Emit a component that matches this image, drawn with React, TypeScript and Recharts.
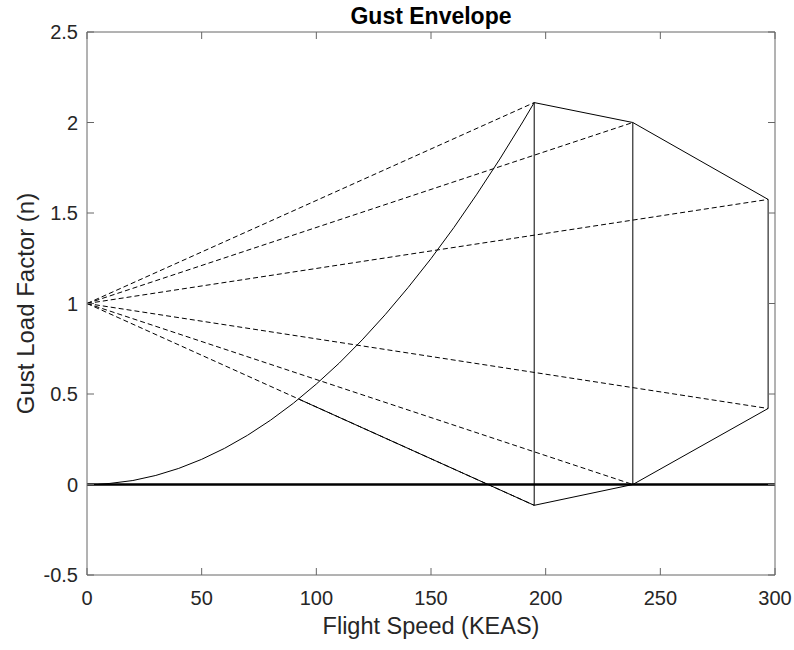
import React from "react"
import { LineChart, Line, XAxis, YAxis, Label } from "recharts"

// corner points of the gust envelope
const cornerSpeeds = [195, 238, 297, 297, 238, 195]
const cornerLoads = [2.11, 2.0, 1.575, 0.42, 0, -0.115]

// stall line (n grows with V^2)
const stallSpeeds = [5, 10, 20, 30, 40, 50, 60, 70, 80, 90, 100, 110, 120, 130, 140, 150, 160, 170, 180, 190, 195]
const stallLoads = [0.001, 0.006, 0.022, 0.05, 0.089, 0.139, 0.2, 0.272, 0.355, 0.449, 0.555, 0.671, 0.799, 0.938, 1.088, 1.248, 1.42, 1.604, 1.798, 2.003, 2.11]

// solid part of the negative gust line past the stall curve
const lowerGustSpeeds = [92.3, 195]
const lowerGustLoads = [0.472, -0.115]

const xTicks = [0, 50, 100, 150, 200, 250, 300]
const yTicks = [-0.5, 0, 0.5, 1, 1.5, 2, 2.5]

const ORIGIN = { v: 0, n: 1 }

const pts = (vs: number[], ns: number[]) => vs.map((v, i) => ({ v, n: ns[i] }))

const corners = pts(cornerSpeeds, cornerLoads)
const envelope = [...corners, corners[0]]
const midVertical = [corners[1], corners[4]]
const stall = pts(stallSpeeds, stallLoads)
const lowerGust = pts(lowerGustSpeeds, lowerGustLoads)
const gustRays = corners.map((c) => [ORIGIN, c])
const zeroLine = [
  { v: xTicks[0], n: 0 },
  { v: xTicks[xTicks.length - 1], n: 0 },
]

const FONT = '"Liberation Sans", Arial, Helvetica, sans-serif'
const AXIS = "#666666"
const TEXT = "#262626"
const TICK = 7

// tickSize is negative so the marks point into the plot (MATLAB style)
const BottomTick = ({ x, y, payload }: any) => (
  <text x={x} y={y + TICK + 30} textAnchor="middle" fontSize={20} fontFamily={FONT} fill={TEXT}>
    {payload.value}
  </text>
)

const LeftTick = ({ x, y, payload }: any) => (
  <text x={x - TICK - 9} y={y + 7} textAnchor="end" fontSize={20} fontFamily={FONT} fill={TEXT}>
    {payload.value}
  </text>
)

const NoLabel = () => <g />

export default function App() {
  return (
    <div style={{ position: "absolute", left: 0, top: 0, background: "#fff" }}>
      <LineChart width={794} height={650} margin={{ top: 31, right: 18, bottom: 0, left: 0 }}>
        <XAxis
          dataKey="v"
          type="number"
          domain={[0, 300]}
          ticks={xTicks}
          height={75}
          tickSize={-TICK}
          tickMargin={0}
          tick={<BottomTick />}
          tickLine={{ stroke: AXIS }}
          axisLine={{ stroke: AXIS }}
          allowDataOverflow
        >
          <Label
            content={({ viewBox }: any) => (
              <text
                x={viewBox.x + viewBox.width / 2}
                y={viewBox.y + 59}
                textAnchor="middle"
                fontSize={23.5}
                fontFamily={FONT}
                fill={TEXT}
              >
                Flight Speed (KEAS)
              </text>
            )}
          />
        </XAxis>
        <XAxis
          xAxisId="top"
          orientation="top"
          dataKey="v"
          type="number"
          domain={[0, 300]}
          ticks={xTicks}
          height={1}
          tickSize={-TICK}
          tickMargin={0}
          tick={<NoLabel />}
          tickLine={{ stroke: AXIS }}
          axisLine={{ stroke: AXIS }}
          allowDataOverflow
        >
          <Label
            content={({ viewBox }: any) => (
              <text
                x={viewBox.x + viewBox.width / 2}
                y={viewBox.y - 7}
                textAnchor="middle"
                fontSize={23}
                fontWeight="bold"
                fontFamily={FONT}
                fill="#000"
              >
                Gust Envelope
              </text>
            )}
          />
        </XAxis>
        <YAxis
          type="number"
          domain={[-0.5, 2.5]}
          ticks={yTicks}
          width={87}
          tickSize={-TICK}
          tickMargin={0}
          tick={<LeftTick />}
          tickLine={{ stroke: AXIS }}
          axisLine={{ stroke: AXIS }}
          allowDataOverflow
        >
          <Label
            content={({ viewBox }: any) => {
              const cy = viewBox.y + viewBox.height / 2
              return (
                <text
                  x={34}
                  y={cy}
                  transform={`rotate(-90, 34, ${cy})`}
                  textAnchor="middle"
                  fontSize={24}
                  fontFamily={FONT}
                  fill={TEXT}
                >
                  Gust Load Factor (n)
                </text>
              )
            }}
          />
        </YAxis>
        <YAxis
          yAxisId="right"
          orientation="right"
          type="number"
          domain={[-0.5, 2.5]}
          ticks={yTicks}
          width={1}
          tickSize={-TICK}
          tickMargin={0}
          tick={<NoLabel />}
          tickLine={{ stroke: AXIS }}
          axisLine={{ stroke: AXIS }}
          allowDataOverflow
        />

        {gustRays.map((ray, i) => (
          <Line
            key={`ray-${i}`}
            data={ray}
            dataKey="n"
            type="linear"
            stroke="#000"
            strokeWidth={1}
            strokeDasharray="5 3"
            dot={false}
            isAnimationActive={false}
          />
        ))}
        <Line data={zeroLine} dataKey="n" type="linear" stroke="#000" strokeWidth={2} dot={false} isAnimationActive={false} />
        <Line
          data={zeroLine}
          dataKey="n"
          xAxisId="top"
          yAxisId="right"
          type="linear"
          stroke="#000"
          strokeWidth={2}
          dot={false}
          isAnimationActive={false}
        />
        <Line data={stall} dataKey="n" type="linear" stroke="#000" strokeWidth={1} dot={false} isAnimationActive={false} />
        <Line data={envelope} dataKey="n" type="linear" stroke="#000" strokeWidth={1} dot={false} isAnimationActive={false} />
        <Line data={midVertical} dataKey="n" type="linear" stroke="#000" strokeWidth={1} dot={false} isAnimationActive={false} />
        <Line data={lowerGust} dataKey="n" type="linear" stroke="#000" strokeWidth={1} dot={false} isAnimationActive={false} />
      </LineChart>
    </div>
  )
}
